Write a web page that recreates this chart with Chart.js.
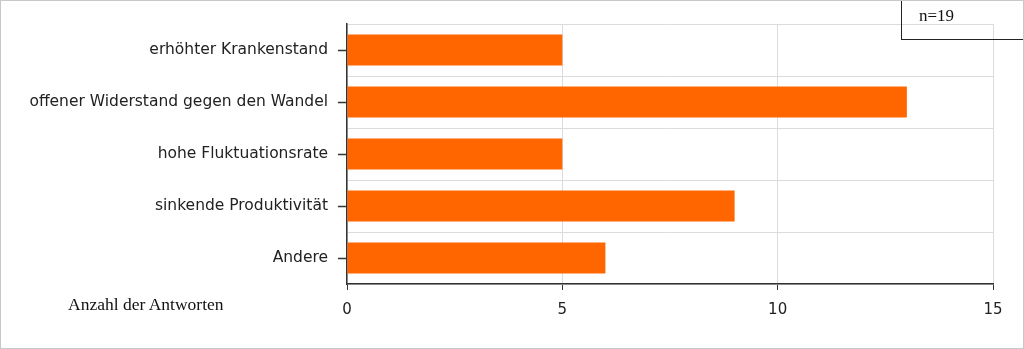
<!DOCTYPE html>
<html>
<head>
<meta charset="utf-8">
<script src="https://cdn.jsdelivr.net/npm/chart.js@4"></script>
<style>
  body { margin: 0; background: #fff; }
  #wrap { position: relative; width: 1024px; height: 349px; }
  #frame { position: absolute; left: 0; top: 0; width: 1024px; height: 349px; box-sizing: border-box; border: 1px solid #c8c8c8; pointer-events: none; }
  #nbox { position: absolute; left: 901px; top: 0; width: 123px; height: 40px; box-sizing: border-box; border-left: 1px solid #222; border-bottom: 1px solid #222; font-family: "Liberation Serif", serif; font-size: 17px; color: #111; }
  #nbox span { position: absolute; left: 17px; top: 7px; line-height: 1; }
  #xtitle { position: absolute; left: 68px; top: 296px; font-family: "Liberation Serif", serif; font-size: 17.5px; line-height: 1; color: #111; }
</style>
</head>
<body>
<div id="wrap">
  <canvas id="myChart" width="1024" height="349"></canvas>
  <div id="xtitle">Anzahl der Antworten</div>
  <div id="nbox"><span>n=19</span></div>
  <div id="frame"></div>
</div>
<script>
var ctx = document.getElementById("myChart");
var labelForChart = ["erhöhter Krankenstand", "offener Widerstand gegen den Wandel", "hohe Fluktuationsrate", "sinkende Produktivität", "Andere"];
var dataForChart = [5, 13, 5, 9, 6];
var xTicks = [0, 5, 10, 15];

// small tick marks at the centre of each category (grid lines sit between them)
var yTickMarks = {
  id: "yTickMarks",
  afterDraw: function(chart){
    var y = chart.scales.y;
    var c = chart.ctx;
    c.save();
    c.strokeStyle = "#333";
    c.lineWidth = 1.5;
    for(var i = 0; i < labelForChart.length; i++){
      var py = Math.round(y.getPixelForValue(i)) + 0.5;
      c.beginPath();
      c.moveTo(y.right - 9, py);
      c.lineTo(y.right, py);
      c.stroke();
    }
    c.restore();
  }
};

var chart = new Chart(ctx, {
  type: 'bar',
  data: {
    labels: labelForChart,
    datasets: [{
      data: dataForChart,
      backgroundColor: "#ff6600",
      borderWidth: 0,
      barPercentage: 0.6,
      categoryPercentage: 1
    }]
  },
  options: {
    indexAxis: 'y',
    responsive: false,
    animation: false,
    layout: { padding: { left: 0, right: 31, top: 24, bottom: 0 } },
    plugins: { legend: { display: false }, tooltip: { enabled: false } },
    scales: {
      x: {
        min: 0,
        max: 15,
        afterBuildTicks: function(scale){ scale.ticks = xTicks.map(function(v){ return {value: v}; }); },
        afterFit: function(scale){ scale.height = 65; },
        grid: { color: "#dcdcdc", tickColor: "#333", tickLength: 6 },
        border: { color: "#333", width: 1.5 },
        ticks: { color: "#222", padding: 11, font: { family: "DejaVu Sans", size: 15 } }
      },
      y: {
        afterFit: function(scale){ scale.width = 347; },
        grid: { offset: true, color: "#dcdcdc", tickColor: "rgba(0,0,0,0)", tickLength: 19 },
        border: { color: "#333", width: 1.5 },
        ticks: { color: "#222", padding: 0, font: { family: "DejaVu Sans", size: 15.5 } }
      }
    }
  },
  plugins: [yTickMarks]
});
</script>
</body>
</html>
